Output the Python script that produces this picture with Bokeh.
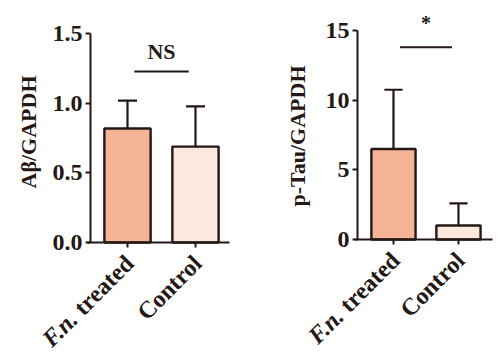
import math
from bokeh.plotting import figure
from bokeh.layouts import row
from bokeh.models import FixedTicker, PrintfTickFormatter, Label, ColumnDataSource
from bokeh.embed import file_html
from bokeh.resources import INLINE

# ---- data ----
categories = ["F.n. treated", "Control"]
abeta_mean = [0.82, 0.69]
abeta_sd = [0.20, 0.29]
ptau_mean = [6.5, 1.0]
ptau_sd = [4.25, 1.6]
abeta_ticks = [0.0, 0.5, 1.0, 1.5]
ptau_ticks = [0, 5, 10, 15]
abeta_sig = "NS"
ptau_sig = "*"
abeta_sig_y = 1.23
ptau_sig_y = 13.8

bar_colors = ["#F6B496", "#FDE8DE"]
ink = "#231815"
FONT = "Liberation Serif"


def make_panel(means, sds, ticks, fmt, ylab, sig_text, sig_y, width,
               xr, yr, yaxis_x, xaxis_end, ymax, sig_font, sig_off, ylab_y, ylab_dx):
    p = figure(width=width, height=355, output_backend="svg", toolbar_location=None,
               x_range=xr, y_range=yr,
               min_border_left=0, min_border_right=0,
               min_border_top=0, min_border_bottom=0)
    p.outline_line_color = None
    p.xgrid.visible = False
    p.ygrid.visible = False
    p.background_fill_color = "white"
    p.border_fill_color = "white"

    xs = [1, 2]
    src = ColumnDataSource(dict(x=xs, top=means, color=bar_colors,
                                hi=[m + s for m, s in zip(means, sds)]))
    # error bars (upper only)
    p.segment(x0="x", y0="top", x1="x", y1="hi", source=src, line_color=ink, line_width=2.2)
    p.segment(x0=[x - 0.14 for x in xs], y0=src.data["hi"], x1=[x + 0.14 for x in xs],
              y1=src.data["hi"], line_color=ink, line_width=2.2)
    p.vbar(x="x", top="top", bottom=0, width=0.68, source=src, fill_color="color",
           line_color=ink, line_width=2.4)

    # significance bracket
    p.segment(x0=[1.1], y0=[sig_y], x1=[1.9], y1=[sig_y], line_color=ink, line_width=2)
    p.add_layout(Label(x=1.5, y=sig_y, text=sig_text, text_align="center",
                       text_baseline="alphabetic",
                       y_offset=sig_off, text_font=FONT, text_font_style="bold",
                       text_font_size=sig_font, text_color=ink))

    # axes
    p.yaxis.ticker = FixedTicker(ticks=ticks)
    p.yaxis.formatter = PrintfTickFormatter(format=fmt)
    p.yaxis.bounds = (0, ymax)
    p.yaxis.fixed_location = yaxis_x
    p.xaxis.bounds = (yaxis_x - 0.04, xaxis_end)
    p.xaxis.fixed_location = 0
    for ax in (p.xaxis[0], p.yaxis[0]):
        ax.axis_line_color = ink
        ax.axis_line_width = 2
        ax.major_tick_line_color = ink
        ax.major_tick_line_width = 2
        ax.major_tick_in = 0
        ax.major_tick_out = 5
        ax.minor_tick_line_color = None
        ax.major_label_text_font = FONT
        ax.major_label_text_font_style = "bold"
        ax.major_label_text_font_size = "24px"
        ax.major_label_text_color = ink
    p.yaxis.major_label_standoff = 3
    p.xaxis.ticker = FixedTicker(ticks=xs)
    p.xaxis.major_label_overrides = {1: "", 2: ""}

    # y axis title (rotated)
    p.add_layout(Label(x=yaxis_x, y=ylab_y, text=ylab, angle=math.pi / 2,
                       text_align="center", text_baseline="middle", x_offset=ylab_dx,
                       text_font=FONT, text_font_style="bold", text_font_size="22px",
                       text_color=ink))

    # rotated category labels (italic genus abbreviation)
    ang = math.pi / 4
    fs = 24
    w_treated = 3.30 * fs  # width of " treated"
    bx, by = 2, -17
    p.add_layout(Label(x=1, y=0, text="treated", angle=ang, text_align="right",
                       text_baseline="middle", x_offset=bx, y_offset=by,
                       text_font=FONT, text_font_style="bold", text_font_size=f"{fs}px",
                       text_color=ink))
    p.add_layout(Label(x=1, y=0, text="F.n.", angle=ang, text_align="right",
                       text_baseline="middle",
                       x_offset=bx - w_treated * math.cos(ang),
                       y_offset=by - w_treated * math.sin(ang),
                       text_font=FONT, text_font_style="bold italic", text_font_size=f"{fs}px",
                       text_color=ink))
    p.add_layout(Label(x=2, y=0, text=categories[1], angle=ang, text_align="right",
                       text_baseline="middle", x_offset=bx, y_offset=by,
                       text_font=FONT, text_font_style="bold", text_font_size=f"{fs}px",
                       text_color=ink))
    return p


p1 = make_panel(abeta_mean, abeta_sd, abeta_ticks, "%.1f", "Aβ/GAPDH", abeta_sig, abeta_sig_y,
                250, (-0.868, 2.809), (-0.813, 1.741), 0.456, 2.5, 1.5, "22px", 20,
                0.795, -62)
p2 = make_panel(ptau_mean, ptau_sd, ptau_ticks, "%d", "p-Tau/GAPDH", ptau_sig, ptau_sig_y,
                251, (-1.2, 2.662), (-8.33, 17.16), 0.446, 2.523, 15, "20px", 24,
                7.43, -60)

layout = row(p1, p2)
open("out.html", "w").write(file_html(layout, INLINE))
